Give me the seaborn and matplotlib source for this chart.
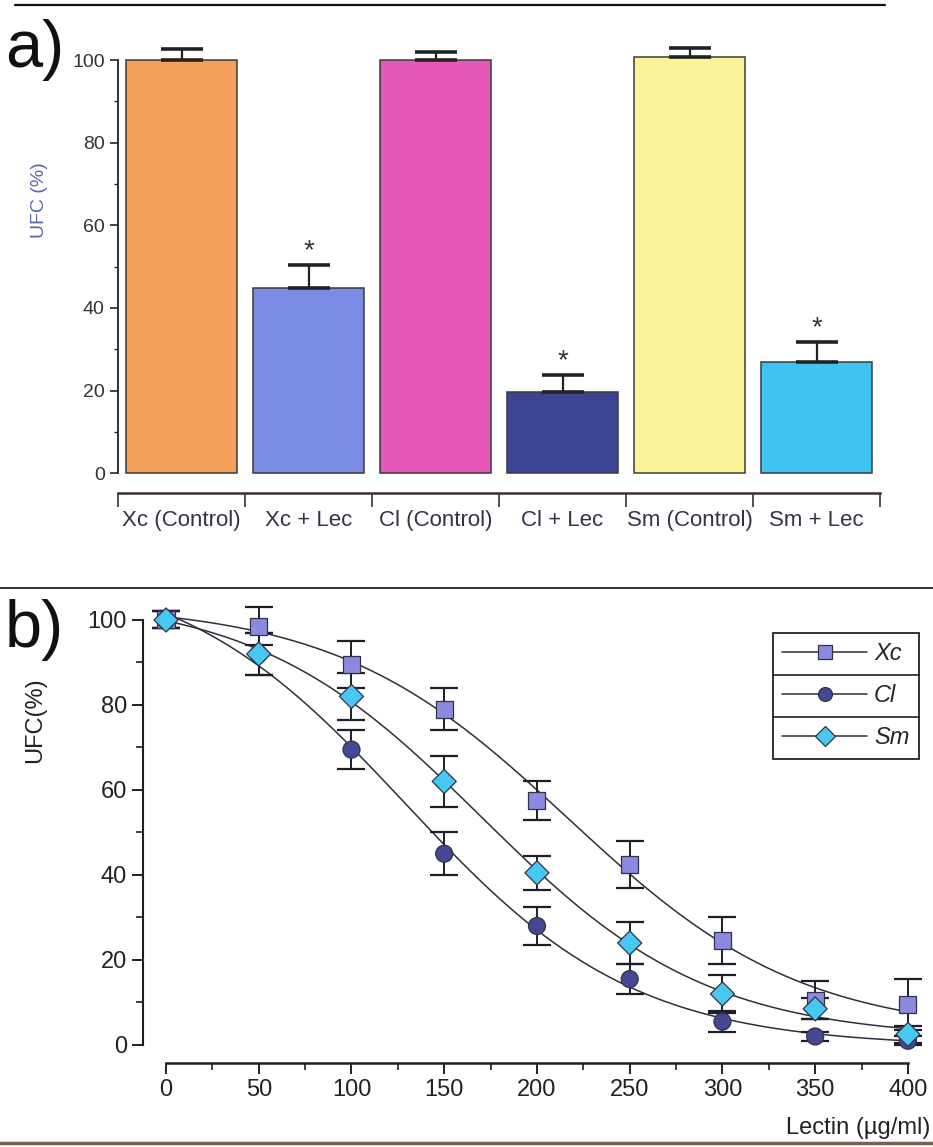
import numpy as np
import pandas as pd
import seaborn as sns
import matplotlib
matplotlib.use("Agg")
import matplotlib.pyplot as plt
from matplotlib.lines import Line2D
from matplotlib.ticker import MultipleLocator, FixedLocator

# ---------------- data ----------------
bar_labels = ["Xc (Control)", "Xc + Lec", "Cl (Control)", "Cl + Lec", "Sm (Control)", "Sm + Lec"]
bar_values = [100.0, 44.8, 100.0, 19.6, 100.7, 26.9]
bar_errors = [2.7, 5.6, 2.0, 4.1, 2.3, 4.8]
bar_signif = [False, True, False, True, False, True]
bar_colors = ["#F5A05A", "#7C8CE4", "#E558B8", "#3C4494", "#FAF39A", "#3EC3F2"]

lectin = [0, 50, 100, 150, 200, 250, 300, 350, 400]
xc_mean = [100.0, 98.5, 89.5, 79.0, 57.5, 42.5, 24.5, 10.5, 9.5]
xc_err = [2.0, 4.5, 5.5, 5.0, 4.5, 5.5, 5.5, 4.5, 6.0]
cl_mean = [100.0, 92.0, 69.5, 45.0, 28.0, 15.5, 5.5, 2.0, 1.0]
cl_err = [2.0, 5.0, 4.5, 5.0, 4.5, 3.5, 2.5, 1.0, 1.0]
sm_mean = [100.0, 92.0, 82.0, 62.0, 40.5, 24.0, 12.0, 8.5, 2.5]
sm_err = [2.0, 5.0, 5.5, 6.0, 4.0, 5.0, 4.5, 2.5, 2.0]
series_names = ["Xc", "Cl", "Sm"]
series_colors = ["#8A8AE0", "#454894", "#46C8F2"]
series_markers = ["s", "o", "D"]

W, H = 933, 1147
NARROW = ["Liberation Sans Narrow", "Liberation Sans", "DejaVu Sans"]
ARIAL = ["Liberation Sans", "DejaVu Sans"]

sns.set_theme(style="ticks")
plt.rcParams["font.family"] = ARIAL

fig = plt.figure(figsize=(W / 100, H / 100), dpi=100)
fig.patch.set_facecolor("white")

def fx(px):
    return px / W

def fy(py):
    return 1 - py / H

# ---------------- panel a ----------------
axa = fig.add_axes([fx(118), fy(493), fx(880) - fx(118), fy(30) - fy(493)])
dfa = pd.DataFrame({"cond": bar_labels, "ufc": bar_values})
sns.barplot(data=dfa, x="cond", y="ufc", hue="cond", palette=bar_colors, saturation=1,
            width=0.88, edgecolor="#3a3a3a", linewidth=1.1, legend=False, ax=axa)
xpos = np.arange(len(bar_labels))
axa.errorbar(xpos, bar_values, yerr=[np.zeros(len(bar_values)), bar_errors],
             fmt="none", ecolor="#222222", elinewidth=1.6, capsize=15, capthick=2.6)
for i, (v, e, s) in enumerate(zip(bar_values, bar_errors, bar_signif)):
    if s:
        axa.text(i, v + e + 0.3, "*", ha="center", va="bottom", fontsize=20,
                 color="#333333", family=ARIAL)
axa.set_xlim(-0.5, 5.5)
axa.set_ylim(-4.8, 107.3)
for sp in ["top", "right"]:
    axa.spines[sp].set_visible(False)
axa.spines["left"].set_bounds(0, 100)
axa.spines["bottom"].set_bounds(-0.5, 5.5)
axa.spines["left"].set_linewidth(1.3)
axa.spines["bottom"].set_linewidth(1.8)
axa.spines["left"].set_color("#222222")
axa.spines["bottom"].set_color("#3a3030")
axa.yaxis.set_major_locator(FixedLocator([0, 20, 40, 60, 80, 100]))
axa.yaxis.set_minor_locator(FixedLocator([10, 30, 50, 70, 90]))
axa.xaxis.set_major_locator(FixedLocator(np.arange(-0.5, 6.0, 1.0)))
axa.xaxis.set_minor_locator(FixedLocator(xpos))
axa.set_xticklabels([""] * 7)
axa.set_xticklabels(bar_labels, minor=True)
axa.tick_params(axis="x", which="major", length=10, width=1.2, color="#3a3030", direction="out")
axa.tick_params(axis="x", which="minor", length=0, pad=12, labelsize=16, labelcolor="#3a3045")
axa.tick_params(axis="y", which="major", length=6, width=1.2, labelsize=14, labelcolor="#333333")
axa.tick_params(axis="y", which="minor", length=3, width=1.0)
for t in axa.get_xticklabels(minor=True) + axa.get_yticklabels():
    t.set_family(NARROW)
axa.set_xlabel("")
axa.set_ylabel("")
axa.set_facecolor("none")
fig.text(fx(40), fy(200), "UFC (%)", rotation=90, ha="center", va="center",
         fontsize=14, color="#5868a8", family=NARROW)

# ---------------- panel b ----------------
axb = fig.add_axes([fx(143), fy(1063), fx(930) - fx(143), fy(600) - fy(1063)])
means = [xc_mean, cl_mean, sm_mean]
errs = [xc_err, cl_err, sm_err]

def boltzmann_fit(x, y, xs):
    """Boltzmann sigmoid least-squares fit (grid over x0, dx; linear in top/bottom)."""
    x = np.asarray(x, float); y = np.asarray(y, float)
    best = None
    for x0 in np.linspace(50, 350, 301):
        for dx in np.linspace(10, 120, 221):
            f = 1.0 / (1.0 + np.exp((x - x0) / dx))
            A = np.column_stack([1 - f, f])
            coef, *_ = np.linalg.lstsq(A, y, rcond=None)
            r = np.sum((A @ coef - y) ** 2)
            if best is None or r < best[0]:
                best = (r, x0, dx, coef)
    _, x0, dx, (bot, top) = best
    fs = 1.0 / (1.0 + np.exp((xs - x0) / dx))
    return bot * (1 - fs) + top * fs

xs = np.linspace(0, 400, 401)
curve_rows = []
for name, mu in zip(series_names, means):
    ys = boltzmann_fit(lectin, mu, xs)
    curve_rows.append(pd.DataFrame({"lectin": xs, "ufc": ys, "strain": name}))
dfc = pd.concat(curve_rows)
sns.lineplot(data=dfc, x="lectin", y="ufc", units="strain", estimator=None,
             color="#2e2e3c", linewidth=1.1, legend=False, ax=axb)
pt_rows = []
for name, mu in zip(series_names, means):
    pt_rows.append(pd.DataFrame({"lectin": lectin, "ufc": mu, "strain": name}))
dfp = pd.concat(pt_rows)
for name, mu, er in zip(series_names, means, errs):
    axb.errorbar(lectin, mu, yerr=er, fmt="none", ecolor="#1e1e28",
                 elinewidth=1.4, capsize=10, capthick=1.6, zorder=3)
sns.scatterplot(data=dfp, x="lectin", y="ufc", hue="strain", style="strain",
                palette=dict(zip(series_names, series_colors)),
                markers=dict(zip(series_names, series_markers)),
                s=150, edgecolor="#333340", linewidth=0.9, legend=False, zorder=4, ax=axb)

axb.set_xlim(-12.4, 411.9)
axb.set_ylim(-4.24, 104.7)
for sp in ["top", "right"]:
    axb.spines[sp].set_visible(False)
axb.spines["left"].set_bounds(0, 100)
axb.spines["bottom"].set_bounds(0, 400)
axb.spines["left"].set_linewidth(1.5)
axb.spines["bottom"].set_linewidth(1.8)
axb.spines["left"].set_color("#1e1e28")
axb.spines["bottom"].set_color("#1e1e28")
axb.xaxis.set_major_locator(MultipleLocator(50))
axb.xaxis.set_minor_locator(MultipleLocator(25))
axb.yaxis.set_major_locator(MultipleLocator(20))
axb.yaxis.set_minor_locator(MultipleLocator(10))
axb.tick_params(axis="both", which="major", length=8, width=1.4, labelsize=17,
                labelcolor="#222222", color="#1e1e28")
axb.tick_params(axis="both", which="minor", length=5, width=1.2, color="#1e1e28")
axb.set_xlabel("")
axb.set_ylabel("")
axb.set_facecolor("none")
fig.text(fx(35), fy(720), "UFC(%)", rotation=90, ha="center", va="center",
         fontsize=17, color="#222222")
fig.text(fx(930), fy(1128), "Lectin (\u00b5g/ml)", ha="right", va="center",
         fontsize=17, color="#222222")

handles = [Line2D([0], [0], color="#2e2e3c", lw=1.1, marker=m, markersize=10,
                  markerfacecolor=c, markeredgecolor="#333340", markeredgewidth=0.9)
           for m, c in zip(series_markers, series_colors)]
leg = axb.legend(handles, series_names, loc="upper right", bbox_to_anchor=(0.986, 0.929),
                 borderaxespad=0, numpoints=1, handlelength=3.6, labelspacing=0.8,
                 borderpad=0.4, handletextpad=0.3, fancybox=False, framealpha=1,
                 edgecolor="#222222", prop={"size": 17, "style": "italic", "family": ARIAL})
leg.get_frame().set_linewidth(1.3)
fig.canvas.draw()
bb = leg.get_window_extent().transformed(fig.transFigure.inverted())
for frac in (1 / 3, 2 / 3):
    yy = bb.y0 + frac * bb.height
    fig.add_artist(Line2D([bb.x0, bb.x1], [yy, yy], transform=fig.transFigure,
                          color="#222222", lw=1.2))

# ---------------- panel letters and separators ----------------
fig.text(fx(5), fy(50), "a)", fontsize=48, ha="left", va="center", color="#111111", family=NARROW)
fig.text(fx(5), fy(630), "b)", fontsize=48, ha="left", va="center", color="#111111", family=NARROW)
fig.add_artist(Line2D([fx(15), fx(885)], [fy(5), fy(5)], transform=fig.transFigure, color="#111111", lw=1.6))
fig.add_artist(Line2D([0, 1], [fy(588), fy(588)], transform=fig.transFigure, color="#222222", lw=1.3))
fig.add_artist(Line2D([0, 1], [fy(1143), fy(1143)], transform=fig.transFigure, color="#7a6050", lw=2.5))

fig.savefig("out.png", dpi=100, facecolor="white")
